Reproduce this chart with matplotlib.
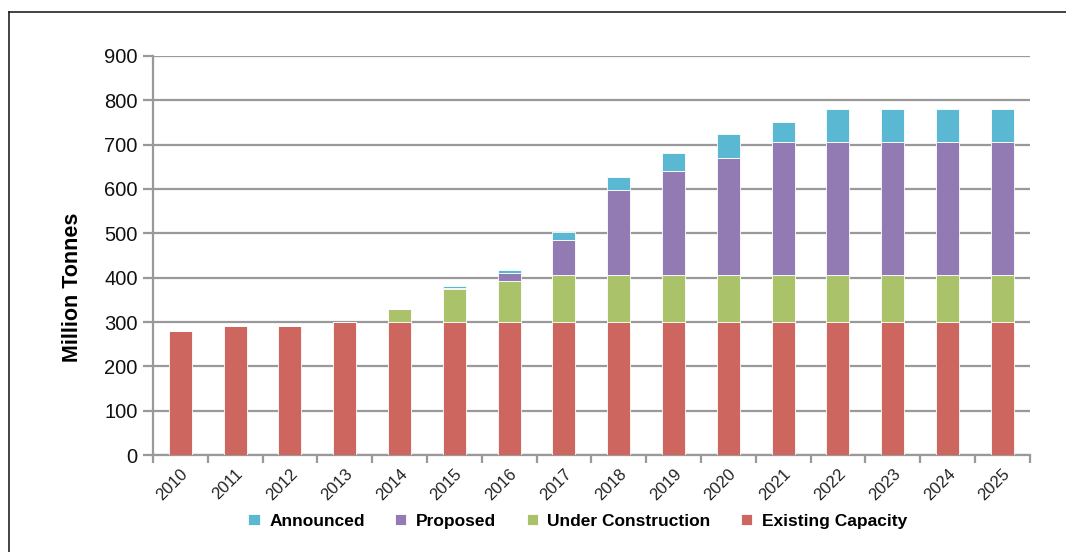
import matplotlib
matplotlib.use("Agg")
import matplotlib.pyplot as plt
from matplotlib.lines import Line2D
import numpy as np

years = ["2010", "2011", "2012", "2013", "2014", "2015", "2016", "2017",
         "2018", "2019", "2020", "2021", "2022", "2023", "2024", "2025"]
existing = [279, 290, 290, 300, 300, 300, 300, 300, 300, 300, 300, 300, 300, 300, 300, 300]
under_construction = [0, 0, 0, 0, 30, 74, 93, 105, 105, 105, 105, 105, 105, 105, 105, 105]
proposed = [0, 0, 0, 0, 0, 2, 17, 80, 193, 236, 266, 300, 300, 300, 300, 300]
announced = [0, 0, 0, 0, 0, 5, 7, 18, 30, 41, 52, 47, 75, 75, 75, 75]

c_exist = "#CD665F"
c_uc = "#AAC36A"
c_prop = "#927BB3"
c_ann = "#5AB8D2"

fig = plt.figure(figsize=(10.66, 5.52), dpi=100)
ax = fig.add_axes([0.1435, 0.1757, 0.8225, 0.7229])

x = np.arange(len(years))
w = 0.42
ex = np.array(existing)
uc = np.array(under_construction)
pr = np.array(proposed)
an = np.array(announced)
kw = dict(width=w, edgecolor="white", linewidth=0.6, zorder=3)
b1 = ax.bar(x, ex, color=c_exist, label="Existing Capacity", **kw)
b2 = ax.bar(x, uc, bottom=ex, color=c_uc, label="Under Construction", **kw)
b3 = ax.bar(x, pr, bottom=ex + uc, color=c_prop, label="Proposed", **kw)
b4 = ax.bar(x, an, bottom=ex + uc + pr, color=c_ann, label="Announced", **kw)

ax.set_xlim(-0.5, len(years) - 0.5)
ax.set_ylim(0, 900)
ax.set_yticks(np.arange(0, 901, 100))
ax.yaxis.grid(True, color="#999999", linewidth=1.6, zorder=0)
ax.set_axisbelow(True)

for s in ["top", "right"]:
    ax.spines[s].set_visible(False)
for s in ["left", "bottom"]:
    ax.spines[s].set_color("#999999")
    ax.spines[s].set_linewidth(1.6)

ax.tick_params(axis="y", length=7, width=1.6, color="#999999",
               labelsize=14.5, labelcolor="#111111", pad=4)
ax.set_yticklabels([str(v) for v in range(0, 901, 100)], family="Liberation Sans")

# x ticks between categories, labels at centers
ax.set_xticks(np.arange(-0.5, len(years), 1.0))
ax.set_xticklabels([])
ax.tick_params(axis="x", which="major", length=6, width=1.6, color="#999999")
ax.set_xticks(x, minor=True)
ax.set_xticklabels(years, minor=True, rotation=45, ha="right",
                   rotation_mode="anchor", fontsize=12, color="#222222",
                   family="Liberation Sans")
ax.tick_params(axis="x", which="minor", length=0, pad=8)

ax.set_ylabel("Million Tonnes", fontsize=15.5, fontweight="bold",
              family="Liberation Sans")
ax.yaxis.set_label_coords(-0.0798, 0.421)

handles = [b4, b3, b2, b1]
leg = fig.legend(handles, [h.get_label() for h in handles],
                 loc="center", bbox_to_anchor=(0.542, 0.056), ncol=4,
                 frameon=False, handlelength=0.65, handleheight=0.65,
                 handletextpad=0.55, columnspacing=1.75,
                 prop={"family": "Liberation Sans",
                       "weight": "bold", "size": 12.5})

# outer frame (top and left lines)
fig.add_artist(Line2D([9 / 1066, 1.0], [1 - 12 / 552, 1 - 12 / 552],
                      transform=fig.transFigure, color="#222222", linewidth=1.2))
fig.add_artist(Line2D([9 / 1066, 9 / 1066], [0.0, 1 - 12 / 552],
                      transform=fig.transFigure, color="#222222", linewidth=1.2))

fig.savefig("out.png", dpi=100)
